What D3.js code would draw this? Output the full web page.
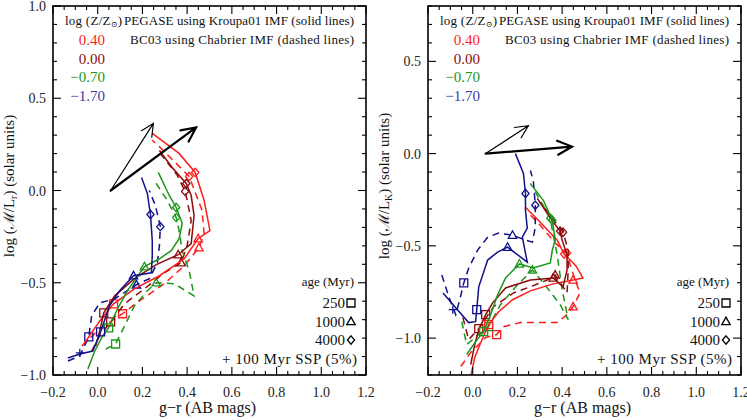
<!DOCTYPE html>
<meta charset="utf-8">
<script src="https://cdn.jsdelivr.net/npm/d3@7/dist/d3.min.js"></script>
<style>
body { margin: 0; background: #fff; }
text { font-family: "Liberation Serif", "DejaVu Serif", serif; fill: #111; }
.frame { fill: none; stroke: #000; stroke-width: 1.6px; }
.tick { stroke: #000; stroke-width: 1.1px; }
.curve { fill: none; stroke-width: 1.5px; }
.curve.bc03 { stroke-dasharray: 7,5; }
.mark { fill: none; stroke-width: 1.3px; }
.arrow { fill: none; stroke: #000; stroke-linecap: round; }
</style>
<body>
<script>

// metallicity labels (log Z/Zsun) and marker ages
var zLabels = ["0.40", "0.00", "\u22120.70", "\u22121.70"];
var ageLabels = [250, 1000, 4000];
var xTicks = [-0.2, 0, 0.2, 0.4, 0.6, 0.8, 1.0, 1.2];
var yTicksR = [-1.0, -0.5, 0, 0.5, 1.0];
var yTicksK = [-1.0, -0.5, 0, 0.5];

// tracks: [g-r, log M/L, age marker in Myr (0 = none)], order follows zLabels
var pegaseR = [
  [[-0.062,-0.832,0],[0.009,-0.707,0],[0.071,-0.614,250],[0.164,-0.533,0],[0.276,-0.462,0],[0.387,-0.370,0],[0.449,-0.261,1000],[0.502,-0.217,0],[0.476,-0.054,0],[0.436,0.098,4000],[0.364,0.201,0],[0.244,0.310,0]],
  [[-0.009,-0.842,0],[0.009,-0.761,0],[0.027,-0.663,250],[0.076,-0.571,0],[0.164,-0.478,0],[0.262,-0.402,0],[0.36,-0.348,1000],[0.418,-0.288,0],[0.431,-0.136,0],[0.418,-0.027,0],[0.396,0.038,4000],[0.333,0.125,0],[0.276,0.217,0]],
  [[-0.044,-0.967,0],[-0.013,-0.870,0],[0.022,-0.788,0],[0.049,-0.745,250],[0.089,-0.641,0],[0.133,-0.543,0],[0.209,-0.413,1000],[0.276,-0.370,0],[0.329,-0.326,0],[0.364,-0.261,0],[0.378,-0.179,0],[0.351,-0.092,4000],[0.32,-0.027,0],[0.271,0.098,0]],
  [[-0.133,-0.908,0],[-0.08,-0.886,0],[-0.022,-0.870,0],[0.013,-0.766,250],[0.053,-0.625,0],[0.098,-0.543,0],[0.16,-0.462,1000],[0.24,-0.446,0],[0.244,-0.353,0],[0.244,-0.272,0],[0.236,-0.130,4000],[0.222,-0.016,0],[0.196,0.071,0]]
];
var bc03R = [
  [[-0.071,-0.842,0],[0.009,-0.75,0],[0.111,-0.668,250],[0.187,-0.598,0],[0.298,-0.505,0],[0.387,-0.408,0],[0.453,-0.310,1000],[0.476,-0.234,0],[0.467,-0.109,0],[0.409,0.076,4000],[0.351,0.147,0],[0.284,0.228,0],[0.244,0.272,0]],
  [[-0.027,-0.870,0],[0.009,-0.788,0],[0.058,-0.712,250],[0.12,-0.614,0],[0.209,-0.533,0],[0.298,-0.446,0],[0.373,-0.391,1000],[0.4,-0.299,0],[0.418,-0.163,0],[0.4,-0.054,0],[0.391,-0.005,4000],[0.356,0.082,0],[0.298,0.174,0],[0.267,0.217,0]],
  [[0.036,-0.859,0],[0.08,-0.832,250],[0.12,-0.734,0],[0.164,-0.625,0],[0.222,-0.543,0],[0.262,-0.5,1000],[0.342,-0.505,0],[0.431,-0.571,0],[0.409,-0.435,0],[0.378,-0.326,0],[0.364,-0.217,0],[0.351,-0.147,4000],[0.311,-0.054,0],[0.253,0.054,0]],
  [[-0.133,-0.924,0],[-0.08,-0.897,0],[-0.04,-0.793,250],[-0.027,-0.679,0],[0.009,-0.609,0],[0.076,-0.587,0],[0.173,-0.511,1000],[0.231,-0.478,0],[0.267,-0.391,0],[0.276,-0.299,0],[0.28,-0.196,4000],[0.258,-0.082,0],[0.231,0.0,0]]
];
var pegaseK = [
  [[-0.009,-1.208,0],[0.009,-1.105,0],[0.036,-1.024,0],[0.071,-0.927,250],[0.116,-0.857,0],[0.178,-0.792,0],[0.258,-0.744,0],[0.36,-0.706,0],[0.449,-0.685,1000],[0.493,-0.674,0],[0.462,-0.609,0],[0.427,-0.566,0],[0.409,-0.544,4000],[0.378,-0.469,0],[0.302,-0.372,0],[0.236,-0.291,0]],
  [[-0.009,-1.143,0],[0.009,-1.035,0],[0.027,-0.954,0],[0.058,-0.873,250],[0.089,-0.809,0],[0.147,-0.728,0],[0.258,-0.685,0],[0.36,-0.674,1000],[0.404,-0.722,0],[0.422,-0.631,0],[0.422,-0.550,0],[0.4,-0.469,0],[0.391,-0.420,4000],[0.347,-0.350,0],[0.289,-0.243,0]],
  [[-0.027,-1.089,0],[0.013,-1.019,0],[0.049,-0.965,250],[0.08,-0.873,0],[0.111,-0.766,0],[0.147,-0.674,0],[0.209,-0.598,1000],[0.271,-0.620,0],[0.347,-0.593,0],[0.356,-0.523,0],[0.369,-0.469,0],[0.356,-0.361,4000],[0.316,-0.253,0],[0.271,-0.183,0]],
  [[-0.133,-0.755,0],[-0.076,-0.836,0],[-0.018,-0.916,0],[0.013,-0.911,0],[0.018,-0.846,250],[0.027,-0.722,0],[0.067,-0.577,0],[0.111,-0.534,0],[0.156,-0.507,1000],[0.244,-0.588,0],[0.222,-0.453,0],[0.244,-0.404,0],[0.236,-0.307,0],[0.236,-0.216,4000],[0.227,-0.108,0],[0.191,0.0,0]]
];
var bc03K = [
  [[-0.053,-1.154,0],[-0.009,-1.078,0],[0.058,-0.997,0],[0.107,-0.981,250],[0.138,-0.938,0],[0.213,-0.916,0],[0.378,-0.916,0],[0.422,-0.873,0],[0.449,-0.830,1000],[0.48,-0.755,0],[0.458,-0.685,0],[0.436,-0.604,0],[0.422,-0.539,4000],[0.369,-0.485,0],[0.302,-0.388,0],[0.258,-0.334,0]],
  [[-0.044,-0.889,0],[-0.018,-1.008,0],[0.027,-0.949,250],[0.093,-0.830,0],[0.182,-0.755,0],[0.258,-0.722,0],[0.333,-0.685,0],[0.369,-0.658,1000],[0.422,-0.755,0],[0.427,-0.631,0],[0.427,-0.523,0],[0.404,-0.426,4000],[0.356,-0.350,0],[0.302,-0.264,0]],
  [[-0.049,-0.911,0],[-0.027,-1.035,0],[0.027,-0.981,0],[0.071,-0.938,250],[0.124,-0.819,0],[0.2,-0.712,0],[0.267,-0.631,1000],[0.324,-0.712,0],[0.391,-0.819,0],[0.427,-0.9,0],[0.4,-0.739,0],[0.378,-0.55,0],[0.36,-0.442,0],[0.347,-0.350,4000],[0.302,-0.253,0],[0.258,-0.162,0]],
  [[-0.138,-0.658,0],[-0.107,-0.776,0],[-0.076,-0.873,0],[-0.058,-0.792,0],[-0.04,-0.701,250],[-0.018,-0.62,0],[0.022,-0.523,0],[0.067,-0.453,0],[0.116,-0.431,0],[0.178,-0.442,1000],[0.236,-0.469,0],[0.267,-0.480,0],[0.28,-0.399,0],[0.28,-0.280,4000],[0.271,-0.146,0],[0.258,-0.092,0]]
];
// vectors: [x0, y0, x1, y1]
var arrowsR = [[0.058, 0.0, 0.249, 0.364], [0.058, 0.0, 0.44, 0.342]];
var arrowsK = [[0.058, 0.0, 0.249, 0.151], [0.058, 0.0, 0.444, 0.038]];
// 100 Myr SSP (5%) points
var plusR = [[-0.08, -0.88]];
var plusK = [[-0.089, -0.846]];

var colors = ["#ff1c1c", "#8b0b0b", "#1a961a", "#11118c"];
var width = 747, height = 420;

var svg = d3.select("body").append("svg")
    .attr("width", width)
    .attr("height", height);

function symbolPath(age, s) {
  if (age == 250) return "M" + (-s) + "," + (-s) + "h" + 2*s + "v" + 2*s + "h" + (-2*s) + "Z";
  if (age == 1000) return "M0," + (-s*1.1) + "L" + s*1.05 + "," + s*0.8 + "L" + (-s*1.05) + "," + s*0.8 + "Z";
  return "M0," + (-s*1.05) + "L" + s*0.9 + ",0L0," + s*1.05 + "L" + (-s*0.9) + ",0Z";
}

function drawPanel(p) {
  var x = d3.scaleLinear().domain([-0.2, 1.2]).range([p.left, p.left + 313]);
  var y = d3.scaleLinear().domain(p.yDomain).range([375, 6]);
  var g = svg.append("g");

  g.append("clipPath").attr("id", "clip" + p.id)
    .append("rect").attr("x", x(-0.2)).attr("y", y(p.yDomain[1]))
    .attr("width", 313).attr("height", 369);

  var plot = g.append("g").attr("clip-path", "url(#clip" + p.id + ")");
  var line = d3.line().x(function(d) { return x(d[0]); }).y(function(d) { return y(d[1]); });

  // dashed (BC03) first, then solid (PEGASE)
  [["bc03", p.bc03], ["pegase", p.pegase]].forEach(function(m) {
    m[1].forEach(function(track, i) {
      plot.append("path").attr("class", "curve " + m[0])
        .attr("d", line(track)).attr("stroke", colors[i]);
      plot.selectAll(null).data(track.filter(function(d) { return d[2] > 0; }))
        .enter().append("path").attr("class", "mark")
        .attr("transform", function(d) { return "translate(" + x(d[0]) + "," + y(d[1]) + ")"; })
        .attr("d", function(d) { return symbolPath(d[2], 4); })
        .attr("stroke", colors[i]);
    });
  });

  p.plus.forEach(function(d) {
    plot.append("path").attr("class", "mark").attr("stroke", colors[3])
      .attr("d", "M" + (x(d[0]) - 4) + "," + y(d[1]) + "h8M" + x(d[0]) + "," + (y(d[1]) - 4) + "v8");
  });

  // reddening vectors
  p.arrows.forEach(function(a, i) {
    var x0 = x(a[0]), y0 = y(a[1]), x1 = x(a[2]), y1 = y(a[3]);
    var ang = Math.atan2(y1 - y0, x1 - x0), L = i ? 16 : 14, w = 0.45;
    var d = "M" + x0 + "," + y0 + "L" + x1 + "," + y1 +
      "M" + (x1 - L * Math.cos(ang - w)) + "," + (y1 - L * Math.sin(ang - w)) + "L" + x1 + "," + y1 +
      "L" + (x1 - L * Math.cos(ang + w)) + "," + (y1 - L * Math.sin(ang + w));
    g.append("path").attr("class", "arrow").attr("d", d).attr("stroke-width", i ? 2.2 : 1.2);
  });

  // frame and ticks
  var x0 = x.range()[0], x1 = x.range()[1], y0 = y.range()[0], y1 = y.range()[1];
  g.append("rect").attr("class", "frame").attr("x", x0).attr("y", y1).attr("width", x1 - x0).attr("height", y0 - y1);

  d3.range(-0.2, 1.2001, 0.05).forEach(function(v, i) {
    var len = (i % 4 == 0) ? 8 : 4;
    g.append("line").attr("class", "tick").attr("x1", x(v)).attr("x2", x(v)).attr("y1", y0).attr("y2", y0 - len);
    g.append("line").attr("class", "tick").attr("x1", x(v)).attr("x2", x(v)).attr("y1", y1).attr("y2", y1 + len);
  });
  d3.range(p.yDomain[0], p.yDomain[1] + 0.001, 0.1).forEach(function(v) {
    var major = Math.abs(v * 2 - Math.round(v * 2)) < 1e-6;
    var len = major ? 8 : 4;
    g.append("line").attr("class", "tick").attr("x1", x0).attr("x2", x0 + len).attr("y1", y(v)).attr("y2", y(v));
    g.append("line").attr("class", "tick").attr("x1", x1).attr("x2", x1 - len).attr("y1", y(v)).attr("y2", y(v));
  });

  var fmt = function(v) { return d3.format(".1f")(v).replace("-", "\u2212"); };
  g.selectAll(null).data(xTicks).enter().append("text")
    .attr("x", function(d) { return x(d); }).attr("y", 397)
    .attr("text-anchor", "middle").style("font-size", "14px").style("fill", "#222").text(fmt);
  g.selectAll(null).data(p.yTicks).enter().append("text")
    .attr("x", x0 - 7).attr("y", function(d) { return y(d) + 5; })
    .attr("text-anchor", "end").style("font-size", "14px").style("fill", "#222").text(fmt);

  // axis titles
  g.append("text").attr("x", (x0 + x1) / 2 - 2).attr("y", 413)
    .attr("text-anchor", "middle").style("font-size", "16px").text("g\u2212r (AB mags)");
  var yl = g.append("text").attr("transform", "translate(" + (x0 - 39) + ",186) rotate(-90)")
    .attr("text-anchor", "middle").style("font-size", "15px");
  yl.append("tspan").text("log (\u2133/L");
  yl.append("tspan").attr("dy", 3).style("font-size", "10px").text(p.band);
  yl.append("tspan").attr("dy", -3).text(") (solar units)");

  // metallicity legend
  var t = g.append("text").attr("x", x0 + 12).attr("y", 25).style("font-size", "13px")
    .attr("textLength", 57).attr("lengthAdjust", "spacing");
  t.append("tspan").text("log (Z/Z");
  t.append("tspan").attr("dy", 2).style("font-size", "8px").text("\u2299");
  t.append("tspan").attr("dy", -2).text(")");
  g.append("text").attr("x", x1 - 242).attr("y", 25)
    .attr("textLength", 230).attr("lengthAdjust", "spacing")
    .style("font-size", "13px").text("PEGASE using Kroupa01 IMF (solid lines)");
  g.append("text").attr("x", x1 - 236).attr("y", 44)
    .attr("textLength", 224).attr("lengthAdjust", "spacing")
    .style("font-size", "13px").text("BC03 using Chabrier IMF (dashed lines)");
  g.selectAll(null).data(zLabels).enter().append("text")
    .attr("x", x0 + 52).attr("y", function(d, i) { return 45 + i * 18.5; })
    .attr("text-anchor", "end").style("font-size", "15px")
    .style("fill", function(d, i) { return i == 3 ? "#3a3aa8" : colors[i]; })
    .text(function(d) { return d; });

  // age legend
  g.append("text").attr("x", x1 - 12).attr("y", 286).attr("text-anchor", "end")
    .style("font-size", "13px").text("age (Myr)");
  ageLabels.forEach(function(a, i) {
    var yy = 303 + i * 18.5;
    g.append("text").attr("x", x1 - 21).attr("y", yy + 5).attr("text-anchor", "end")
      .style("font-size", "15px").text(a);
    g.append("path").attr("class", "mark").attr("stroke", "#000").attr("stroke-width", 1.6)
      .attr("transform", "translate(" + (x1 - 15) + "," + yy + ")")
      .attr("d", symbolPath(a, 4));
  });
  g.append("text").attr("x", x1 - 144).attr("y", 364)
    .attr("textLength", 135).attr("lengthAdjust", "spacing")
    .style("font-size", "15px").text("+ 100 Myr SSP (5%)");
}

drawPanel({id: "r", left: 53, yDomain: [-1.0, 1.0], yTicks: yTicksR, band: "r",
  pegase: pegaseR, bc03: bc03R, arrows: arrowsR, plus: plusR});
drawPanel({id: "k", left: 428, yDomain: [-1.2, 0.8], yTicks: yTicksK, band: "K",
  pegase: pegaseK, bc03: bc03K, arrows: arrowsK, plus: plusK});

</script>
</body>
